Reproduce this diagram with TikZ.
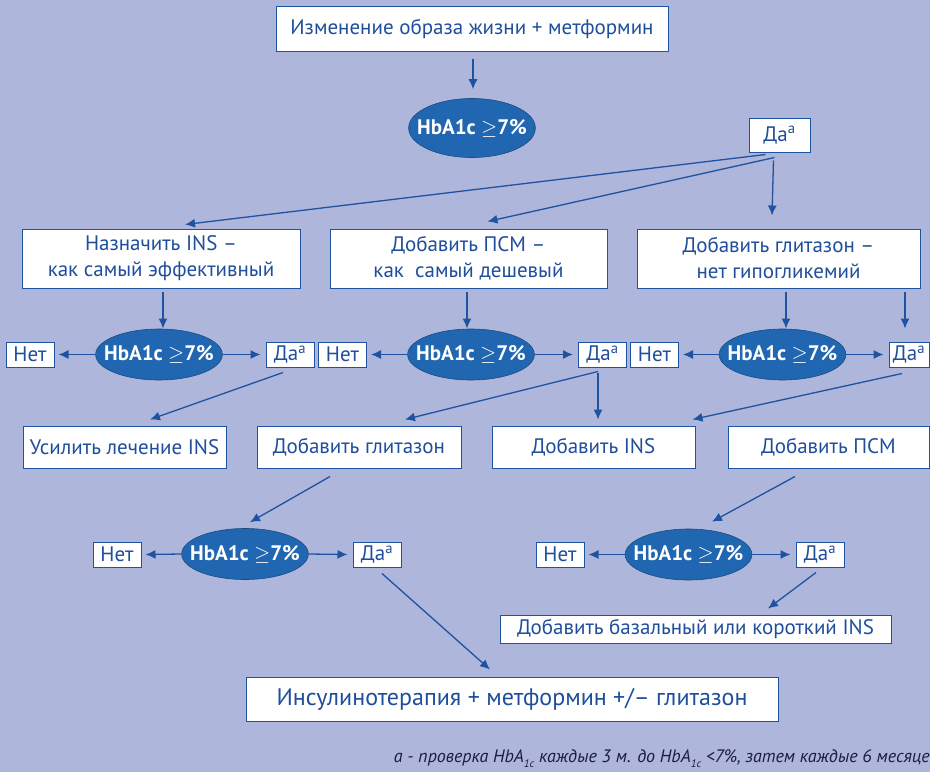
\documentclass[tikz,border=0pt]{standalone}
\usepackage{fontspec}
\setmainfont{PT Sans}
\usetikzlibrary{arrows.meta,shapes.geometric,calc}

\definecolor{bgblue}{HTML}{AEB6DB}
\definecolor{lineblue}{HTML}{1F52A0}
\definecolor{ellblue}{HTML}{2166B0}
\definecolor{textblue}{HTML}{1F4E9C}
\definecolor{notecolor}{HTML}{1C1C45}

\tikzset{
	box/.style={draw=lineblue, line width=1pt, fill=white, text=textblue, font=\fontsize{21}{26}\selectfont, align=center, inner sep=0pt},
	answer/.style={box, minimum height=25pt, minimum width=48pt},
	test/.style={ellipse, draw=ellblue!75!black, line width=0.6pt, fill=ellblue, text=white, font=\bfseries\fontsize{21}{21}\selectfont, inner xsep=-10pt, inner ysep=0pt, minimum height=51pt},
	arr/.style={draw=lineblue, line width=1.3pt, -{Latex[length=10pt,width=9pt]}},
}
\newcommand{\hbatest}{HbA1c $\geq$7\%}
\newcommand{\yesmark}{Да\textsuperscript{a}}
\newcommand{\subone}{\raisebox{-5pt}{\fontsize{11}{11}\selectfont 1c}}

\begin{document}
\begin{tikzpicture}[x=1pt,y=-1pt]
	\fill[bgblue] (0,0) rectangle (930,772);
	\useasboundingbox (0,0) rectangle (930,772);
	
	% start
	\node[box, minimum width=392pt, minimum height=45pt] (start) at (472,28.5) {Изменение образа жизни + метформин};
	\node[test, minimum height=59pt] (t0) at (472,128) {\hbatest};
	\node[box, minimum width=61pt, minimum height=34pt] (y0) at (779.5,135) {\yesmark};
	
	% three options
	\node[box, minimum width=278pt, minimum height=59pt] (ins) at (161,258.5) {Назначить INS --\\как самый эффективный};
	\node[box, minimum width=277pt, minimum height=59pt] (psm) at (468.5,258.5) {Добавить ПСМ --\\как\ \ самый дешевый};
	\node[box, minimum width=283pt, minimum height=59pt] (glit) at (778.5,258.5) {Добавить глитазон --\\нет гипогликемий};
	
	% row of tests
	\node[answer] (n1) at (30,354.5) {Нет};
	\node[test] (t1) at (159,354.5) {\hbatest};
	\node[answer] (y1) at (290,354.5) {\yesmark};
	\node[answer] (n2) at (342.5,354.5) {Нет};
	\node[test] (t2) at (471,354.5) {\hbatest};
	\node[answer] (y2) at (602.5,354.5) {\yesmark};
	\node[answer] (n3) at (654.5,354.5) {Нет};
	\node[test] (t3) at (782.5,354.5) {\hbatest};
	\node[answer, minimum width=40pt] (y3) at (909,354.5) {\yesmark};
	
	% next step
	\node[box, minimum width=203pt, minimum height=42pt] (moreins) at (124.5,447) {Усилить лечение INS};
	\node[box, minimum width=204pt, minimum height=42pt] (addglit) at (359,447) {Добавить глитазон};
	\node[box, minimum width=203pt, minimum height=42pt] (addins) at (593.5,447) {Добавить INS};
	\node[box, minimum width=201pt, minimum height=42pt] (addpsm) at (828.5,447) {Добавить ПСМ};
	
	% second tests
	\node[answer] (n4) at (117,554.5) {Нет};
	\node[test] (t4) at (245,554) {\hbatest};
	\node[answer] (y4) at (377,554.5) {\yesmark};
	\node[answer] (n5) at (560,554.5) {Нет};
	\node[test] (t5) at (688.5,554.5) {\hbatest};
	\node[answer] (y5) at (820,554.5) {\yesmark};
	
	\node[box, minimum width=391pt, minimum height=28pt] (basal) at (695.5,629) {Добавить базальный или короткий INS};
	\node[box, minimum width=532pt, minimum height=44pt, font=\fontsize{24}{24}\selectfont] (final) at (512,699) {Инсулинотерапия + метформин +/-- глитазон};
	
	\node[anchor=base east, text=notecolor, font=\itshape\fontsize{18}{18}\selectfont, inner xsep=0pt] (note) at (930,762) {a - проверка HbA\subone\ каждые 3 м. до HbA\subone\ <7\%, затем каждые 6 месяце};
	
	% connectors
	\draw[arr] ($(start.south)+(1,7)$) -- ($(t0.north)+(1,-9)$);
	\draw[arr] ($(y0.south)+(-14,2)$) -- ($(ins.north)+(24,-4)$);
	\draw[arr] ($(y0.south)+(-5,5)$) -- ($(psm.north)+(19,-7)$);
	\draw[arr] ($(y0.south)+(-6,8)$) -- ($(glit.north)+(-6.5,-13)$);
	
	\draw[arr] ($(ins.south)+(2,3)$) -- ++(0,37);
	\draw[arr] ($(psm.south)+(-1.5,3)$) -- ++(0,37);
	\draw[arr] ($(glit.south)+(7.5,3)$) -- ++(0,37);
	\draw[arr] ($(glit.south)+(126.5,3)$) -- ++(0,37);
	
	\foreach \t/\n/\y in {t1/n1/y1, t2/n2/y2, t3/n3/y3, t4/n4/y4, t5/n5/y5}{
		\draw[arr] (\t.west) -- ($(\n.east)+(4,0)$);
		\draw[arr] (\t.east) -- ($(\y.west)+(-5,0)$);
	}
	
	\draw[arr] ($(y1.south)+(-7,5)$) -- ($(moreins.north)+(25.5,-6)$);
	\draw[arr] ($(y2.south)+(-4.5,4)$) -- ($(addglit.north)+(46,-6)$);
	\draw[arr] ($(y2.south)+(-4.5,5)$) -- ($(addins.north)+(4.5,-6)$);
	\draw[arr] ($(y3.south)+(-7,6)$) -- ($(addins.north east)+(-3,-6)$);
	
	\draw[arr] ($(addglit.south)+(-29,8)$) -- ($(t4.north)+(5,-6)$);
	\draw[arr] ($(addpsm.south)+(-33.5,8)$) -- ($(t5.north)+(23.5,-7)$);
	
	\draw[arr] ($(y4.south)+(5,6)$) -- ($(final.north)+(-22,-7)$);
	\draw[arr] ($(y5.south)+(-4,5)$) -- ($(basal.north)+(72.5,-6)$);
\end{tikzpicture}
\end{document}
